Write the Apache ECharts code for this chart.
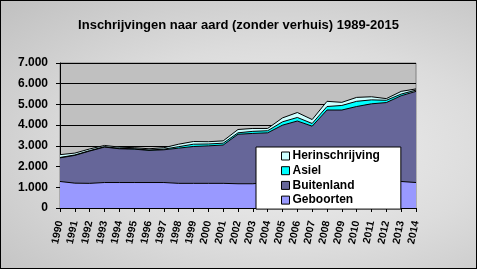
<!DOCTYPE html>
<html>
<head>
<meta charset="utf-8">
<script src="https://cdn.jsdelivr.net/npm/echarts@6/dist/echarts.min.js"></script>
<style>
html,body{margin:0;padding:0;}
#c{width:477px;height:269px;box-sizing:border-box;border:1px solid #000;
background:radial-gradient(ellipse at 60% 55%, #f0f0f0 0%, #dcdcdc 50%, #c0c0c0 100%);}
</style>
</head>
<body>
<div id="c"></div>
<script>
const years = ['1990','1991','1992','1993','1994','1995','1996','1997','1998','1999','2000','2001','2002','2003','2004','2005','2006','2007','2008','2009','2010','2011','2012','2013','2014'];
const geboorten = [1280,1200,1190,1230,1230,1230,1230,1230,1190,1190,1190,1190,1170,1170,1230,1250,1260,1270,1280,1280,1280,1280,1280,1280,1230];
const buitenland = [1140,1340,1560,1710,1630,1610,1550,1580,1700,1780,1810,1850,2390,2430,2400,2750,2940,2680,3450,3450,3620,3750,3810,4140,4400];
const asiel = [20,20,20,20,20,20,20,30,70,110,90,90,70,100,100,160,170,130,170,220,250,190,110,80,60];
const herinschrijving = [135,90,80,60,60,50,60,70,120,130,110,110,160,140,110,190,240,190,250,150,190,150,80,130,60];
const yTicks = [0,1000,2000,3000,4000,5000,6000,7000];

const chart = echarts.init(document.getElementById('c'), null, {renderer:'canvas'});
const font = 'Liberation Sans, Arial, sans-serif';
function mk(name, data, color){
  return {name, type:'line', stack:'t', data, symbol:'none', smooth:false,
    lineStyle:{color:'#000', width:1}, itemStyle:{color:color, borderColor:'#000', borderWidth:1},
    areaStyle:{color:color, opacity:1}, emphasis:{disabled:true}, animation:false};
}
chart.setOption({
  backgroundColor:'transparent',
  animation:false,
  title:{text:'Inschrijvingen naar aard (zonder verhuis) 1989-2015', left:'center', top:13,
    textStyle:{fontFamily:font, fontSize:13, fontWeight:'bold', color:'#000'}},
  grid:{left:59, right:60, top:62, bottom:60, show:true, backgroundColor:'#c0c0c0', borderColor:'#808080', borderWidth:1},
  legend:{data:['Herinschrijving','Asiel','Buitenland','Geboorten'], orient:'vertical', left:255, top:146,
    backgroundColor:'#fff', borderColor:'#000', borderWidth:1, padding:[3,21,3,25], itemGap:2.7,
    itemWidth:8, itemHeight:8, icon:'rect',
    textStyle:{fontFamily:font, fontSize:12, fontWeight:'bold', color:'#000', lineHeight:12, padding:[0,0,0,-2]},
    itemStyle:{borderColor:'#000', borderWidth:1}},
  xAxis:{type:'category', data:years, boundaryGap:false,
    axisLine:{lineStyle:{color:'#000', width:1}},
    axisTick:{show:true, length:4, inside:false, interval:0, lineStyle:{color:'#000'}},
    axisLabel:{interval:0, rotate:78, margin:13, fontFamily:font, fontSize:10.5, fontWeight:'bold', color:'#000'}},
  yAxis:{type:'value', min:yTicks[0], max:yTicks[yTicks.length-1], interval:1000,
    axisLine:{show:true, lineStyle:{color:'#000', width:1}},
    axisTick:{show:true, length:4, lineStyle:{color:'#000'}},
    splitLine:{show:true, lineStyle:{color:'#000', width:1}},
    axisLabel:{margin:12, fontFamily:font, fontSize:12, fontWeight:'bold', color:'#000',
      formatter:v=>String(v).replace(/\B(?=(\d{3})+(?!\d))/g,'.')}},
  series:[
    mk('Geboorten', geboorten, '#9999ff'),
    mk('Buitenland', buitenland, '#666699'),
    mk('Asiel', asiel, '#00ffff'),
    mk('Herinschrijving', herinschrijving, '#ccffff')
  ]
});
</script>
</body>
</html>
